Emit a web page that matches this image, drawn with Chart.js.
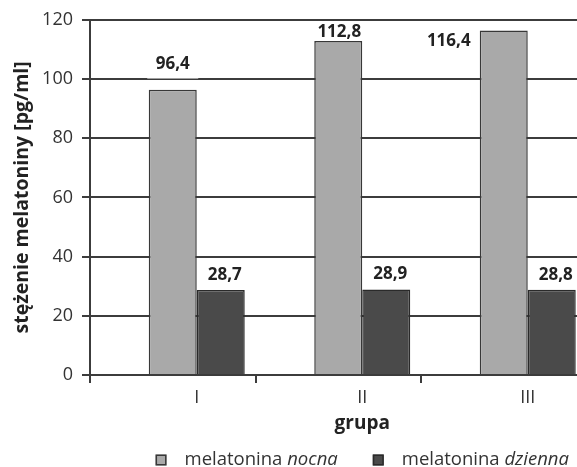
<!DOCTYPE html>
<html><head><meta charset="utf-8">
<script src="https://cdn.jsdelivr.net/npm/chart.js@4/dist/chart.umd.min.js"></script>
<style>
html,body{margin:0;padding:0;overflow:hidden;background:#fff;width:577px;height:467px}
#wrap{width:600px;height:467px;position:relative}
</style></head>
<body><div id="wrap"><canvas id="c" width="600" height="467" style="width:600px;height:467px"></canvas></div>
<script>
// ---- data ----
const categories = ['I', 'II', 'III'];
const nocna = [96.4, 112.8, 116.4];
const dzienna = [28.7, 28.9, 28.8];
const seriesNames = [['melatonina ', 'nocna'], ['melatonina ', 'dzienna']];
const yTitle = 'stężenie melatoniny [pg/ml]';
const xTitle = 'grupa';

// ---- style ----
const FONT = '"Open Sans", "DejaVu Sans", sans-serif';
const GRID = '#3c3c3c';
const fills = ['#a9a9a9', '#4a4a4a'];
const borders = ['#383838', '#2a2a2a'];
const SHIFT = 24; // group shift inside each category (dummy slot)
const labelStyle = [
  [{dx: 0, dy: -25, bg: true}, {dx: 1, dy: -9}, {dx: -55, dy: 11}],
  [{dx: 4, dy: -15}, {dx: 4, dy: -15}, {dx: 4, dy: -15}]
];
const series = [nocna, dzienna];
const fmt = v => v.toFixed(1).replace('.', ',');

const overlay = {
  id: 'overlay',
  afterDatasetsDraw(chart) {
    const ctx = chart.ctx;
    ctx.save();
    ctx.font = 'bold 17px ' + FONT;
    ctx.textAlign = 'center';
    ctx.textBaseline = 'middle';
    [1, 2].forEach((di, si) => {
      const meta = chart.getDatasetMeta(di);
      meta.data.forEach((bar, i) => {
        const st = labelStyle[si][i];
        const txt = fmt(series[si][i]);
        const x = bar.x + st.dx, y = bar.y + st.dy;
        if (st.bg) {
          const w = ctx.measureText(txt).width + 17;
          ctx.fillStyle = 'rgba(255,255,255,0.78)';
          ctx.fillRect(x - w / 2, y - 14, w, 28);
        }
        ctx.fillStyle = '#222';
        ctx.fillText(txt, x, y);
      });
    });
    ctx.restore();
  },
  afterDraw(chart) {
    const ctx = chart.ctx;
    const xs = chart.scales.x;
    ctx.save();
    // x title
    ctx.font = 'bold 19px ' + FONT;
    ctx.fillStyle = '#222';
    ctx.textAlign = 'center';
    ctx.textBaseline = 'alphabetic';
    ctx.fillText(xTitle, xs.getPixelForValue(1) + SHIFT, 429);
    // legend
    const boxW = 11, boxGap = 18, itemGap = 35;
    const reg = '18.5px ' + FONT, ita = 'italic 18.5px ' + FONT;
    const widths = seriesNames.map(([a, b]) => {
      ctx.font = reg; const wa = ctx.measureText(a).width;
      ctx.font = ita; const wb = ctx.measureText(b).width;
      return [wa, wb];
    });
    const total = widths.reduce((s, w) => s + boxW + boxGap + w[0] + w[1], 0) + itemGap;
    const cx = (chart.chartArea.left + chart.chartArea.right) / 2 + SHIFT;
    let x = cx - total / 2;
    const base = 465;
    seriesNames.forEach(([a, b], k) => {
      ctx.fillStyle = fills[k];
      ctx.fillRect(x, 454.5, boxW, boxW);
      ctx.strokeStyle = borders[k];
      ctx.lineWidth = 1.5;
      ctx.strokeRect(x + 0.75, 455.25, boxW - 1.5, boxW - 1.5);
      x += boxW + boxGap;
      ctx.fillStyle = '#333';
      ctx.textAlign = 'left';
      ctx.font = reg; ctx.fillText(a, x, base); x += widths[k][0];
      ctx.font = ita; ctx.fillText(b, x, base); x += widths[k][1];
      x += itemGap;
    });
    ctx.restore();
  }
};

new Chart(document.getElementById('c'), {
  type: 'bar',
  data: {
    labels: categories,
    datasets: [
      {label: 'spacer', data: categories.map(() => null), backgroundColor: 'rgba(0,0,0,0)'},
      {label: 'melatonina nocna', data: nocna, backgroundColor: fills[0], borderColor: borders[0], borderWidth: 1.5},
      {label: 'melatonina dzienna', data: dzienna, backgroundColor: fills[1], borderColor: borders[1], borderWidth: 1.5}
    ]
  },
  options: {
    responsive: false,
    animation: false,
    events: [],
    layout: {padding: {left: 0, top: 19, right: 13.5, bottom: 32}},
    datasets: {bar: {categoryPercentage: 0.87, barPercentage: 1.0}},
    plugins: {legend: {display: false}, tooltip: {enabled: false}},
    scales: {
      x: {
        offset: true,
        grid: {display: true, drawOnChartArea: false, drawTicks: true, tickLength: 8, color: GRID, lineWidth: 2, offset: true},
        border: {display: true, color: GRID, width: 2},
        ticks: {font: {family: FONT, size: 18}, color: '#333', padding: 4, labelOffset: SHIFT, maxRotation: 0},
        afterFit(s) { s.height = 60; }
      },
      y: {
        min: 0, max: 120,
        grid: {color: GRID, lineWidth: 2, tickLength: 8, drawTicks: true},
        border: {display: true, color: GRID, width: 2},
        ticks: {stepSize: 20, font: {family: FONT, size: 18}, color: '#333', padding: 9},
        title: {display: true, text: yTitle, font: {family: FONT, size: 19.5, weight: 'bold'}, color: '#222', padding: {top: 11, bottom: 0}},
        afterFit(s) { s.width = 90; }
      }
    }
  },
  plugins: [overlay]
});
</script>
</body></html>
